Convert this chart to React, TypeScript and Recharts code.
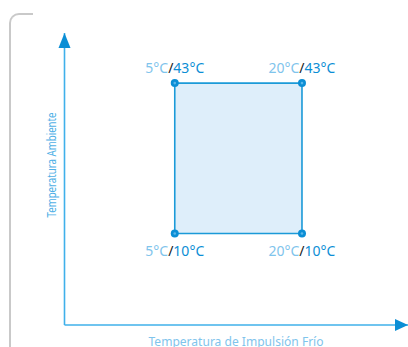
import { ComposedChart, XAxis, YAxis, ReferenceArea, ReferenceDot, ReferenceLine, Scatter } from 'recharts';

// operating range corners
const supplyTemps = [5, 20];
const ambientTemps = [10, 43];
const xTitle = 'Temperatura de Impulsión Frío';
const yTitle = 'Temperatura Ambiente';

const X_DOMAIN: [number, number] = [-8, 32.5];
const Y_DOMAIN: [number, number] = [-10.1, 54];

const LIGHT = '#7fc4ec';
const DARK = '#0b8ed5';
const AXIS = '#3fb0ea';
const FONT = '"Noto Sans", sans-serif';

const corners = ambientTemps.flatMap((a) =>
  supplyTemps.map((s) => ({ x: s, y: a, top: a === Math.max(...ambientTemps) }))
);

const CornerShape = (props: any) => {
  const { cx, cy, payload } = props;
  const ty = payload.top ? cy - 10 : cy + 23;
  return (
    <g>
      <circle cx={cx} cy={cy} r={4} fill={DARK} />
      <circle cx={cx} cy={cy} r={1.3} fill="#5ab6ea" />
      <text x={cx} y={ty} textAnchor="middle" fontSize={14} fontFamily={FONT}>
        <tspan fill={LIGHT}>{payload.x}°C</tspan>
        <tspan fill="#1a1a1a">/</tspan>
        <tspan fill={DARK}>{payload.y}°C</tspan>
      </text>
    </g>
  );
};

const UpArrow = (props: any) => {
  const { cx, cy } = props;
  return <path d={`M${cx},${cy} L${cx + 6},${cy + 15} L${cx - 6},${cy + 15} Z`} fill={DARK} />;
};

const RightArrow = (props: any) => {
  const { cx, cy } = props;
  return <path d={`M${cx},${cy} L${cx - 13},${cy - 6} L${cx - 13},${cy + 6} Z`} fill={DARK} />;
};

export default function App() {
  return (
    <div style={{ position: 'absolute', left: 0, top: 0, width: 408, height: 347, background: '#fff', overflow: 'hidden' }}>
      <div
        style={{
          position: 'absolute',
          left: 9,
          top: 13,
          width: 22,
          height: 360,
          borderLeft: '2.5px solid #c9c9c9',
          borderTop: '2.5px solid #c9c9c9',
          borderTopLeftRadius: 10,
        }}
      />
      <ComposedChart
        width={408}
        height={347}
        margin={{ top: 33, right: 0, bottom: 22, left: 64.5 }}
        style={{ position: 'absolute', left: 0, top: 0 }}
      >
        <XAxis type="number" dataKey="x" domain={X_DOMAIN} allowDataOverflow hide />
        <YAxis type="number" dataKey="y" domain={Y_DOMAIN} allowDataOverflow hide />
        <ReferenceArea
          x1={supplyTemps[0]}
          x2={supplyTemps[1]}
          y1={ambientTemps[0]}
          y2={ambientTemps[1]}
          fill="#deeefa"
          fillOpacity={1}
          stroke="#1b9ad8"
          strokeWidth={1.6}
        />
        <ReferenceLine
          x={X_DOMAIN[0]}
          ifOverflow="visible"
          stroke={AXIS}
          strokeWidth={1.6}
          label={{
            content: () => (
              <text
                x={56}
                y={165}
                transform="rotate(-90 56 165)"
                textAnchor="middle"
                fontSize={12.5}
                fontFamily={FONT}
                fill="#4fb0e6"
                textLength={105}
                lengthAdjust="spacingAndGlyphs"
              >
                {yTitle}
              </text>
            ),
          }}
        />
        <ReferenceLine
          y={Y_DOMAIN[0]}
          ifOverflow="visible"
          stroke={AXIS}
          strokeWidth={1.6}
          label={{
            content: () => (
              <text
                x={236}
                y={346}
                textAnchor="middle"
                fontSize={13}
                fontFamily={FONT}
                fill={LIGHT}
                textLength={175}
                lengthAdjust="spacingAndGlyphs"
              >
                {xTitle}
              </text>
            ),
          }}
        />
        <ReferenceDot x={X_DOMAIN[0]} y={Y_DOMAIN[1]} ifOverflow="visible" shape={UpArrow} />
        <ReferenceDot x={X_DOMAIN[1]} y={Y_DOMAIN[0]} ifOverflow="visible" shape={RightArrow} />
        <Scatter data={corners} shape={CornerShape} isAnimationActive={false} />
      </ComposedChart>
    </div>
  );
}
